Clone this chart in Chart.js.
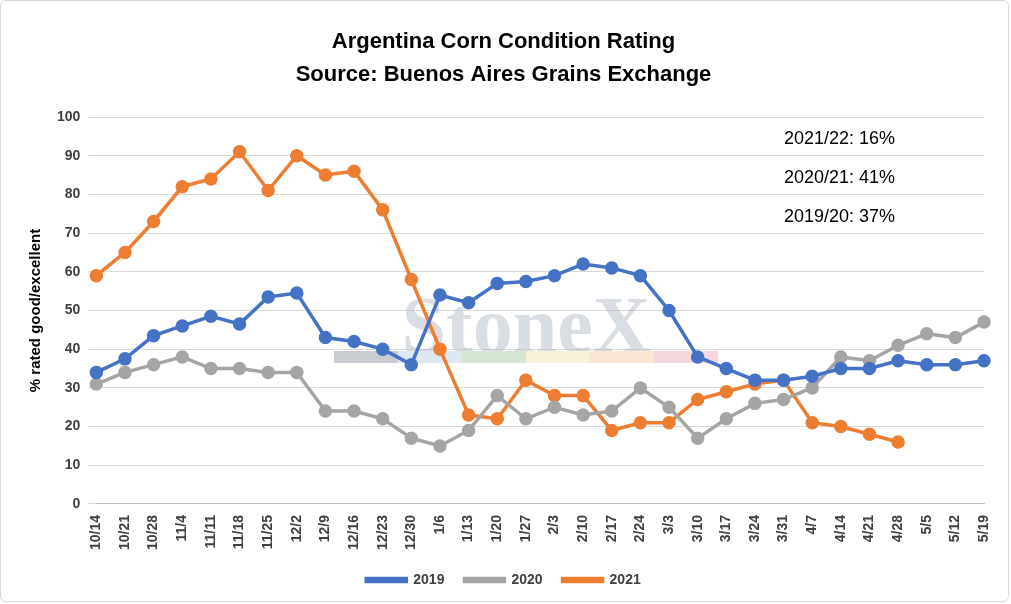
<!DOCTYPE html>
<html><head><meta charset="utf-8">
<script src="https://cdn.jsdelivr.net/npm/chart.js@4/dist/chart.umd.min.js"></script>
<style>html,body{margin:0;padding:0;background:#fff}#w{width:1009px;height:602px;border:1px solid #d9d9d9;border-radius:6px;box-sizing:border-box;position:relative}</style>
</head><body><div id="w"><canvas id="c"></canvas></div>
<script>
const categories=["10/14","10/21","10/28","11/4","11/11","11/18","11/25","12/2","12/9","12/16","12/23","12/30","1/6","1/13","1/20","1/27","2/3","2/10","2/17","2/24","3/3","3/10","3/17","3/24","3/31","4/7","4/14","4/21","4/28","5/5","5/12","5/19"];
const s2019=[34,37.5,43.5,46,48.5,46.5,53.5,54.5,43,42,40,36,54,52,57,57.5,59,62,61,59,50,38,35,32,32,33,35,35,37,36,36,37];
const s2020=[31,34,36,38,35,35,34,34,24,24,22,17,15,19,28,22,25,23,24,30,25,17,22,26,27,30,38,37,41,44,43,47];
const s2021=[59,65,73,82,84,91,81,90,85,86,76,58,40,23,22,32,28,28,19,21,21,27,29,31,32,21,20,18,16,null,null,null];
const notes=["2021/22: 16%","2020/21: 41%","2019/20: 37%"];
const ds=(l,d,c)=>({label:l,data:d,borderColor:c,backgroundColor:c,borderWidth:3.5,pointRadius:5,pointHoverRadius:5,tension:0,spanGaps:false});
const deco={id:'deco',beforeDatasetsDraw(ch){const {ctx}=ch;ctx.save();
ctx.font='bold 80px "Liberation Serif"';ctx.fillStyle='rgba(170,180,195,0.45)';ctx.textAlign='center';ctx.fillText('StoneX',525,330);
const cols=['#c9ccd1','#dde8f2','#d6e6d5','#f5f2d8','#f8e6d2','#f3d7dc'];cols.forEach((c,i)=>{ctx.fillStyle=c;ctx.fillRect(333+i*64,350,64,12)});
ctx.restore();},
afterDatasetsDraw(ch){const {ctx}=ch;ctx.save();ctx.font='18px "Liberation Sans"';ctx.fillStyle='#000';ctx.textAlign='left';
notes.forEach((t,i)=>ctx.fillText(t,783,138+i*39));ctx.restore();}};
const tf={family:'"Liberation Sans"',size:14,weight:'bold'};
new Chart(document.getElementById('c'),{type:'line',data:{labels:categories,datasets:[ds('2019',s2019,'#4472C4'),ds('2020',s2020,'#A5A5A5'),ds('2021',s2021,'#ED7D31')]},
options:{responsive:true,maintainAspectRatio:false,animation:false,
layout:{padding:{left:22,right:24,top:14,bottom:4}},
plugins:{title:{display:true,text:['Argentina Corn Condition Rating','Source: Buenos Aires Grains Exchange'],font:{family:'"Liberation Sans"',size:22,weight:'bold',lineHeight:1.5},color:'#000',padding:{top:10,bottom:26}},
legend:{position:'bottom',labels:{font:tf,color:'#404040',boxWidth:40,boxHeight:3,padding:20}},tooltip:{enabled:false}},
scales:{x:{grid:{display:false},border:{color:'#bfbfbf'},ticks:{maxRotation:90,minRotation:90,autoSkip:false,font:tf,color:'#404040'}},
y:{min:0,max:100,ticks:{stepSize:10,font:tf,color:'#404040',padding:8},grid:{color:'#d9d9d9'},border:{display:false},
title:{display:true,text:'% rated good/excellent',font:{family:'"Liberation Sans"',size:15,weight:'bold'},color:'#000'}}}},
plugins:[deco]});
</script></body></html>
